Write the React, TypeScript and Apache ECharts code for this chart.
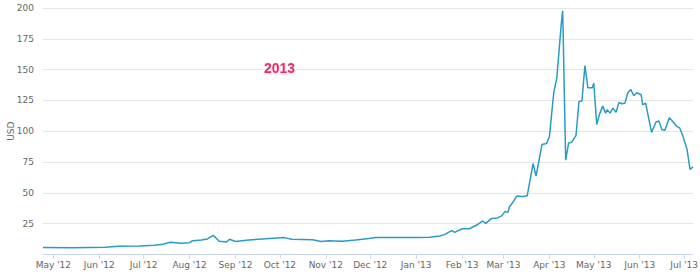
import React, { useEffect, useRef } from "react";
import * as echarts from "echarts";

const dates: string[] = [
  "2012-04-24", "2012-05-14", "2012-06-05", "2012-06-14", "2012-06-28", "2012-07-08", "2012-07-14",
  "2012-07-19", "2012-07-26", "2012-08-01", "2012-08-03", "2012-08-09", "2012-08-13", "2012-08-17",
  "2012-08-21", "2012-08-26", "2012-08-28", "2012-09-01", "2012-09-10", "2012-09-19", "2012-10-04",
  "2012-10-09", "2012-10-23", "2012-10-29", "2012-11-03", "2012-11-12", "2012-11-21", "2012-11-30",
  "2012-12-05", "2012-12-18", "2013-01-03", "2013-01-10", "2013-01-17", "2013-01-20", "2013-01-25",
  "2013-01-27", "2013-02-01", "2013-02-06", "2013-02-11", "2013-02-15", "2013-02-17", "2013-02-21",
  "2013-02-25", "2013-02-28", "2013-03-02", "2013-03-04", "2013-03-05", "2013-03-06", "2013-03-10",
  "2013-03-14", "2013-03-17", "2013-03-21", "2013-03-23", "2013-03-27", "2013-03-30", "2013-04-01",
  "2013-04-04", "2013-04-06", "2013-04-09", "2013-04-10", "2013-04-12", "2013-04-14", "2013-04-16",
  "2013-04-19", "2013-04-21", "2013-04-23", "2013-04-25", "2013-04-27", "2013-04-30", "2013-05-01",
  "2013-05-03", "2013-05-05", "2013-05-07", "2013-05-09", "2013-05-10", "2013-05-12", "2013-05-14",
  "2013-05-16", "2013-05-18", "2013-05-20", "2013-05-22", "2013-05-24", "2013-05-26", "2013-05-28",
  "2013-05-30", "2013-06-02", "2013-06-03", "2013-06-05", "2013-06-09", "2013-06-12", "2013-06-14",
  "2013-06-16", "2013-06-18", "2013-06-21", "2013-06-23", "2013-06-26", "2013-06-28", "2013-06-30",
  "2013-07-03", "2013-07-05", "2013-07-07",
];

const prices: number[] = [
  5.6, 5.4, 5.9, 6.7, 6.9, 7.5, 8.3,
  9.9, 9.2, 9.6, 11.2, 11.8, 12.6, 15.6,
  10.7, 10.2, 12.4, 10.5, 11.8, 12.6, 13.7,
  12.3, 12.0, 10.5, 11.1, 10.8, 11.8, 12.9,
  13.7, 13.7, 13.7, 14.0, 15.0, 16.1, 19.3,
  18.0, 20.9, 20.9, 23.9, 27.2, 25.3, 29.3,
  29.7, 31.5, 35.0, 34.2, 38.7, 40.1, 47.4,
  47.0, 47.6, 73.8, 63.6, 89.2, 90.0, 95.4,
  131.7, 143.0, 186.5, 197.8, 76.5, 90.5, 91.0,
  96.7, 124.2, 124.6, 153.3, 135.3, 135.3, 139.0,
  105.5, 114.3, 120.4, 114.7, 117.5, 114.7, 118.8,
  115.3, 123.4, 122.3, 122.8, 131.2, 133.9, 128.8,
  131.2, 129.6, 121.5, 122.8, 99.1, 107.5, 108.3,
  101.3, 100.8, 111.0, 108.3, 104.0, 102.7, 96.7,
  85.1, 69.0, 71.1,
];

const monthNames: string[] = ["Jan", "Feb", "Mar", "Apr", "May", "Jun", "Jul", "Aug", "Sep", "Oct", "Nov", "Dec"];
const yTicks: number[] = [0, 25, 50, 75, 100, 125, 150, 175, 200];
const xStart = "2012-04-24";
const xEnd = "2013-07-07";
const annotation = "2013";
const yAxisName = "USD";

export default function App() {
  const ref = useRef<HTMLDivElement>(null);
  useEffect(() => {
    if (!ref.current) return;
    const chart = echarts.init(ref.current, undefined, { renderer: "svg" });
    const DAY = 86400000;
    chart.setOption({
      animation: false,
      grid: { left: 43, right: 7, top: 8, bottom: 24.5, containLabel: false, outerBoundsMode: "none" },
      xAxis: {
        type: "time",
        min: xStart,
        max: xEnd,
        splitNumber: 15,
        minInterval: 28 * DAY,
        maxInterval: 31 * DAY,
        axisLine: { lineStyle: { color: "#ccd6eb", width: 1 } },
        axisTick: { show: true, length: 4, lineStyle: { color: "#ccd6eb" } },
        splitLine: { show: false },
        axisLabel: {
          color: "#666",
          fontSize: 9,
          fontFamily: "DejaVu Sans, sans-serif",
          margin: 6,
          showMinLabel: false,
          showMaxLabel: false,
          hideOverlap: false,
          formatter: (val: number) => {
            const d = new Date(val);
            return monthNames[d.getMonth()] + " '" + String(d.getFullYear()).slice(2);
          },
        },
      },
      yAxis: {
        type: "value",
        min: yTicks[0],
        max: yTicks[yTicks.length - 1],
        interval: 25,
        name: yAxisName,
        nameLocation: "middle",
        nameGap: 28,
        nameRotate: 90,
        nameMoveOverlap: false,
        nameTextStyle: { color: "#666", fontSize: 9, fontFamily: "DejaVu Sans, sans-serif" },
        axisLine: { show: false },
        axisTick: { show: false },
        splitLine: { lineStyle: { color: "#e6e6e6", width: 1 } },
        axisLabel: {
          color: "#666",
          fontSize: 9,
          fontFamily: "DejaVu Sans, sans-serif",
          margin: 9,
          formatter: (v: number) => (v === 0 ? "" : String(v)),
        },
      },
      series: [
        {
          type: "line",
          data: dates.map((d, i) => [d, prices[i]]),
          showSymbol: false,
          symbol: "none",
          lineStyle: { color: "#2a9cc4", width: 1.5 },
          itemStyle: { color: "#2a9cc4" },
        },
      ],
      graphic: [
        {
          type: "rect",
          z: 100,
          shape: { x: 263, y: 60, width: 33, height: 15 },
          style: { fill: "#fff" },
        },
        {
          type: "text",
          z: 101,
          x: 279.5,
          y: 67.5,
          style: {
            text: annotation,
            fill: "#e5306b",
            font: "bold 14px 'Liberation Sans', Arial, sans-serif",
            align: "center",
            verticalAlign: "middle",
            textShadowColor: "rgba(229,48,107,0.25)",
            textShadowBlur: 2,
            textShadowOffsetY: 1,
          },
        },
      ],
    });
    return () => chart.dispose();
  }, []);
  return <div ref={ref} style={{ width: 700, height: 279, position: "absolute", left: 0, top: 0, background: "#fff" }} />;
}
